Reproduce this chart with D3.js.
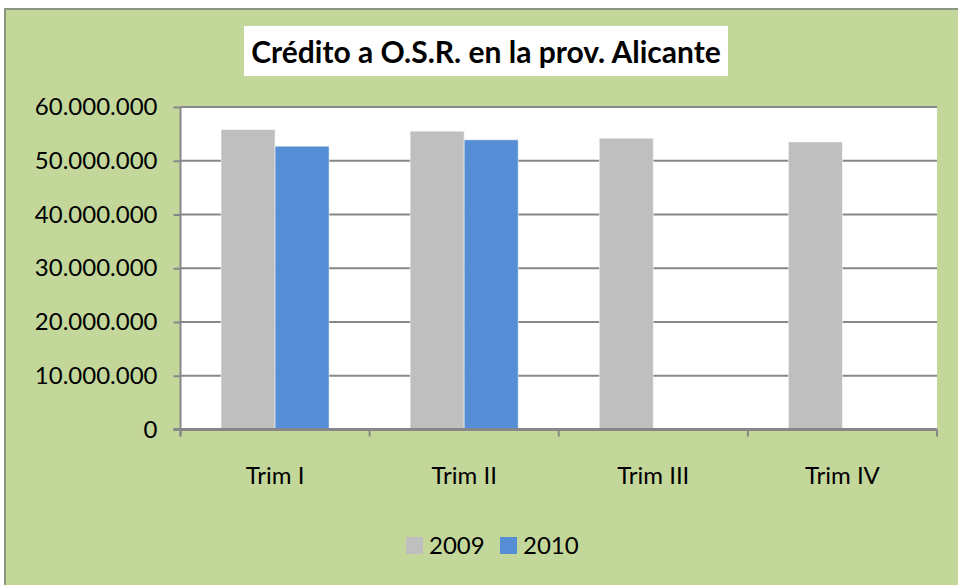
<!DOCTYPE html>
<html>
<head>
<meta charset="utf-8">
<script src="https://cdn.jsdelivr.net/npm/d3@7"></script>
<style>
  body { margin: 0; background: #fff; }
  svg { display: block; }
  text { font-family: Lato, "Open Sans", sans-serif; fill: #000; }
</style>
</head>
<body>
<svg width="958" height="585"></svg>
<script>
// Data
var quarters = ["Trim I", "Trim II", "Trim III", "Trim IV"];
var seriesNames = ["2009", "2010"];
var values2009 = [55800000, 55500000, 54200000, 53500000];
var values2010 = [52700000, 53900000, null, null];
var yTicks = [0, 10000000, 20000000, 30000000, 40000000, 50000000, 60000000];
var colours = ["#bfbfbf", "#558ed5"];

var svg = d3.select("svg"),
	width = +svg.attr("width"),
	height = +svg.attr("height");

// Chart background and frame
svg.append("rect")
	.attr("x", 5).attr("y", 9)
	.attr("width", width + 10).attr("height", height + 10)
	.attr("fill", "#c4d79b")
	.attr("stroke", "#8c9580")
	.attr("stroke-width", 2);

// Title in a white box
svg.append("rect")
	.attr("x", 244).attr("y", 26)
	.attr("width", 484).attr("height", 50)
	.attr("fill", "#fff");
svg.append("text")
	.attr("x", 486).attr("y", 63)
	.attr("text-anchor", "middle")
	.style("font-size", "30px")
	.style("font-weight", "bold")
	.text("Crédito a O.S.R. en la prov. Alicante");

var plot = { left: 180.5, right: 937, top: 107, bottom: 429.5 };

// Scales
var x0 = d3.scaleBand()
	.domain(quarters)
	.range([plot.left, plot.right])
	.paddingInner(0.4286)
	.paddingOuter(0.2143);
var x1 = d3.scaleBand()
	.domain(seriesNames)
	.range([0, x0.bandwidth()]);
var y = d3.scaleLinear()
	.domain([0, 60000000])
	.range([plot.bottom, plot.top]);

var fmt = function(v) {
	return d3.format(",")(v).replace(/,/g, ".");
};

// Plot area
svg.append("rect")
	.attr("x", plot.left).attr("y", plot.top)
	.attr("width", plot.right - plot.left)
	.attr("height", plot.bottom - plot.top)
	.attr("fill", "#fff");

// Gridlines
svg.append("g")
	.selectAll("line")
	.data(yTicks.filter(function(d) { return d > 0; }))
	.enter()
	.append("line")
		.attr("x1", plot.left).attr("x2", plot.right)
		.attr("y1", function(d) { return y(d); })
		.attr("y2", function(d) { return y(d); })
		.attr("stroke", "#878787")
		.attr("stroke-width", 2);

// Bars
var rows = quarters.map(function(q, i) {
	return { q: q, vals: [values2009[i], values2010[i]] };
});
svg.append("g")
	.selectAll("g")
	.data(rows)
	.enter()
	.append("g")
		.attr("transform", function(d) { return "translate(" + x0(d.q) + ",0)"; })
	.selectAll("rect")
	.data(function(d) {
		return d.vals.map(function(v, j) { return { key: seriesNames[j], v: v, c: colours[j] }; })
			.filter(function(e) { return e.v != null; });
	})
	.enter()
	.append("rect")
		.attr("x", function(d) { return x1(d.key); })
		.attr("y", function(d) { return y(d.v); })
		.attr("width", x1.bandwidth())
		.attr("height", function(d) { return y(0) - y(d.v); })
		.attr("fill", function(d) { return d.c; })
		.attr("stroke", "#fff")
		.attr("stroke-opacity", 0.5)
		.attr("stroke-width", 1);

// Y axis
var yAxis = svg.append("g")
	.attr("transform", "translate(" + plot.left + ",0)")
	.call(d3.axisLeft(y).tickValues(yTicks).tickFormat(fmt).tickSize(7).tickPadding(16));
yAxis.select(".domain").attr("stroke", "#878787").attr("stroke-width", 2)
	.attr("d", "M0," + plot.top + "V" + (plot.bottom + 7));
yAxis.selectAll(".tick line").attr("stroke", "#878787").attr("stroke-width", 2);
yAxis.selectAll("text").style("font-size", "24px").attr("fill", "#000");

// X axis
var bounds = quarters.map(function(q) { return x0(q) - x0.step() * x0.paddingOuter(); });
bounds.push(plot.right);
var xg = svg.append("g");
xg.append("line")
	.attr("x1", plot.left - 7).attr("x2", plot.right)
	.attr("y1", plot.bottom).attr("y2", plot.bottom)
	.attr("stroke", "#878787").attr("stroke-width", 3);
xg.selectAll(".xt")
	.data(bounds)
	.enter()
	.append("line")
		.attr("x1", function(d) { return d; }).attr("x2", function(d) { return d; })
		.attr("y1", plot.bottom).attr("y2", plot.bottom + 7)
		.attr("stroke", "#878787").attr("stroke-width", 2);
xg.selectAll("text")
	.data(quarters)
	.enter()
	.append("text")
		.attr("x", function(d) { return x0(d) + x0.bandwidth() / 2; })
		.attr("y", 484)
		.attr("text-anchor", "middle")
		.style("font-size", "24px")
		.text(function(d) { return d; });

// Legend
var legend = svg.append("g")
	.selectAll("g")
	.data(seriesNames)
	.enter()
	.append("g")
		.attr("transform", function(d, i) { return "translate(" + (406 + i * 94) + ",537)"; });
legend.append("rect")
	.attr("width", 17).attr("height", 17)
	.attr("fill", function(d, i) { return colours[i]; });
legend.append("text")
	.attr("x", 23).attr("y", 16.5)
	.style("font-size", "24px")
	.text(function(d) { return d; });
</script>
</body>
</html>
